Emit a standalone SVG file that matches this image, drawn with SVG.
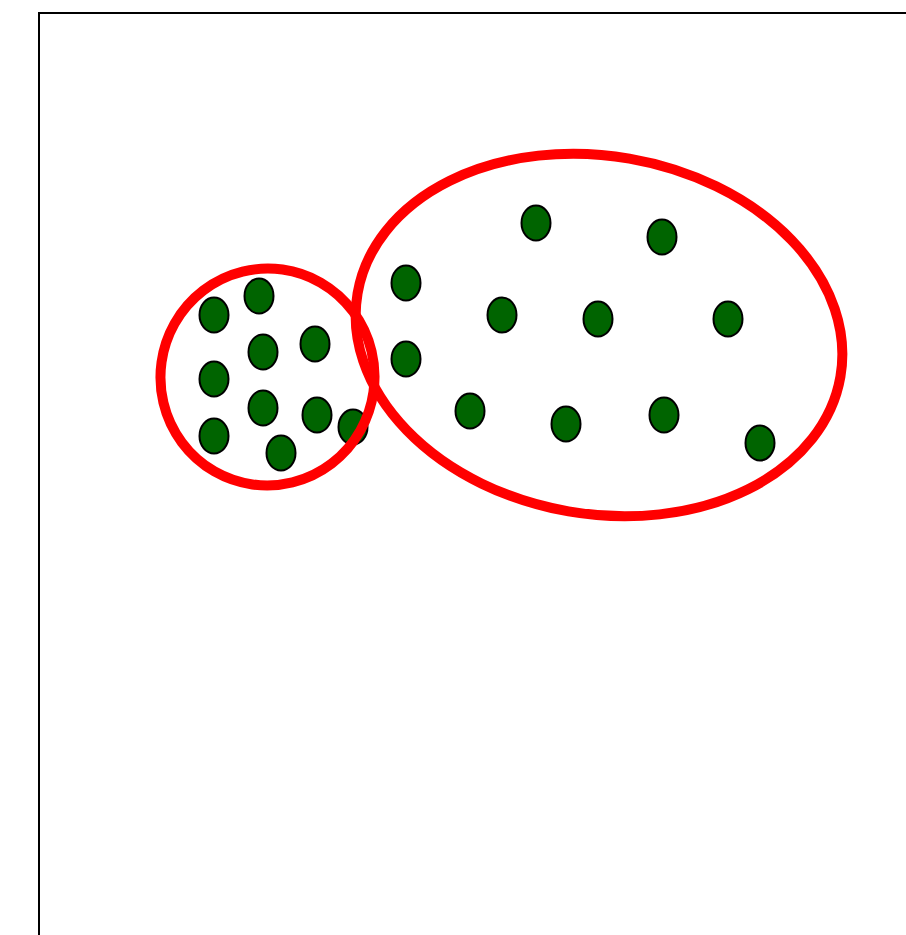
<svg xmlns="http://www.w3.org/2000/svg" width="906" height="935" viewBox="0 0 906 935">
<style>
.dot{fill:#006400;stroke:#000;stroke-width:2}
.ring{fill:none;stroke:#ff0000;stroke-width:10}
</style>
<rect width="906" height="935" fill="#fff"/>
<path d="M39,935 V13 H906" fill="none" stroke="#000" stroke-width="2"/>
<g id="dots">
<ellipse id="d1" class="dot" cx="214" cy="315" rx="14.5" ry="17.5"/>
<ellipse id="d2" class="dot" cx="259" cy="296" rx="14.5" ry="17.5"/>
<ellipse id="d3" class="dot" cx="263" cy="352" rx="14.5" ry="17.5"/>
<ellipse id="d4" class="dot" cx="315" cy="344" rx="14.5" ry="17.5"/>
<ellipse id="d5" class="dot" cx="214" cy="379" rx="14.5" ry="17.5"/>
<ellipse id="d6" class="dot" cx="263" cy="408" rx="14.5" ry="17.5"/>
<ellipse id="d7" class="dot" cx="317" cy="415" rx="14.5" ry="17.5"/>
<ellipse id="d8" class="dot" cx="353" cy="427" rx="14.5" ry="17.5"/>
<ellipse id="d9" class="dot" cx="214" cy="436" rx="14.5" ry="17.5"/>
<ellipse id="d10" class="dot" cx="281" cy="453" rx="14.5" ry="17.5"/>
<ellipse id="d11" class="dot" cx="536" cy="223" rx="14.5" ry="17.5"/>
<ellipse id="d12" class="dot" cx="662" cy="237" rx="14.5" ry="17.5"/>
<ellipse id="d13" class="dot" cx="406" cy="283" rx="14.5" ry="17.5"/>
<ellipse id="d14" class="dot" cx="502" cy="315" rx="14.5" ry="17.5"/>
<ellipse id="d15" class="dot" cx="598" cy="319" rx="14.5" ry="17.5"/>
<ellipse id="d16" class="dot" cx="728" cy="319" rx="14.5" ry="17.5"/>
<ellipse id="d17" class="dot" cx="406" cy="359" rx="14.5" ry="17.5"/>
<ellipse id="d18" class="dot" cx="470" cy="411" rx="14.5" ry="17.5"/>
<ellipse id="d19" class="dot" cx="566" cy="424" rx="14.5" ry="17.5"/>
<ellipse id="d20" class="dot" cx="664" cy="415" rx="14.5" ry="17.5"/>
<ellipse id="d21" class="dot" cx="760" cy="443" rx="14.5" ry="17.5"/>
</g>
<g id="groups">
<ellipse id="small-group" class="ring" cx="267.5" cy="377" rx="107" ry="108.5" transform="rotate(8 267.5 377)"/>
<ellipse id="large-group" class="ring" cx="599" cy="335" rx="245" ry="179" transform="rotate(9.8 599 335)"/>
</g>
</svg>
